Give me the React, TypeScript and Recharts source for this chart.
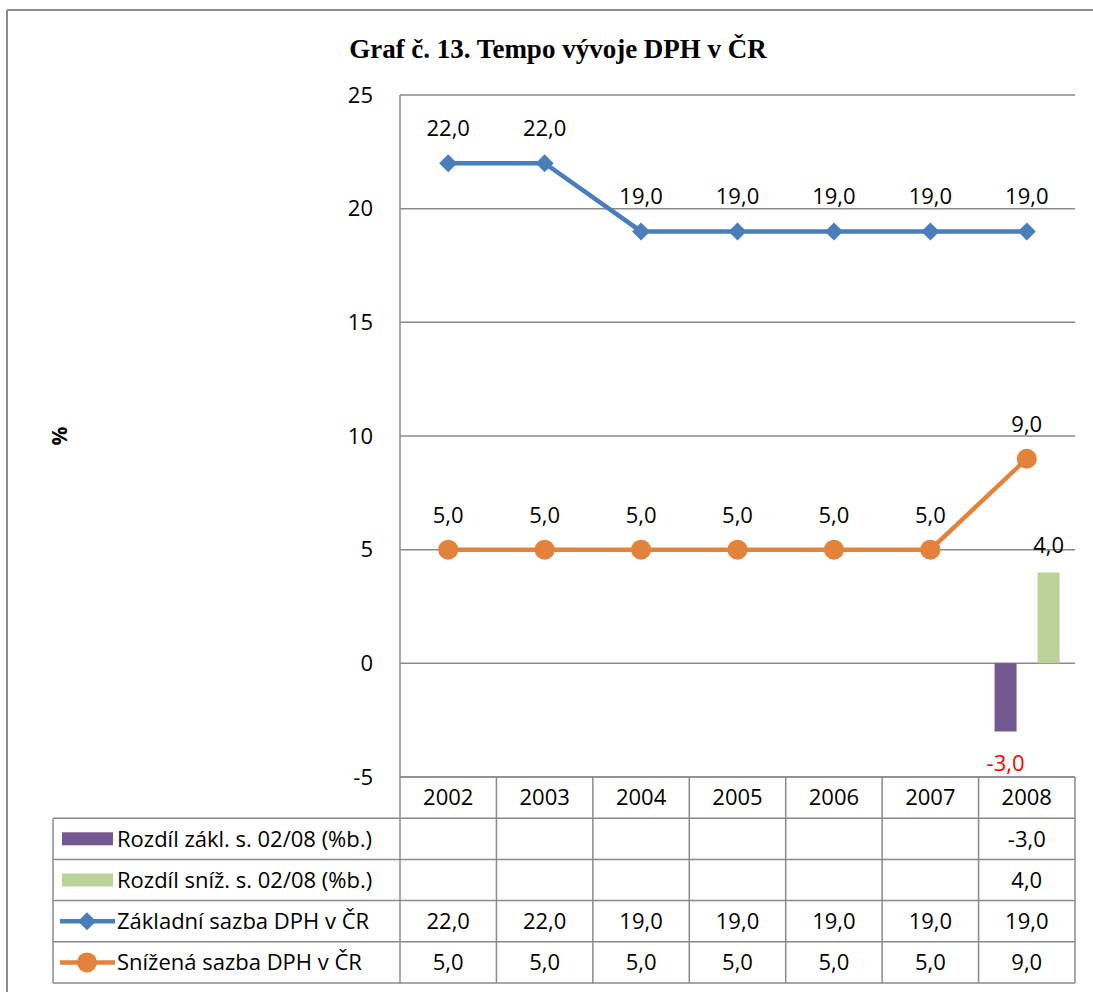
import {
  ComposedChart,
  Bar,
  Line,
  XAxis,
  YAxis,
  CartesianGrid,
  LabelList,
} from 'recharts';

const years = ['2002', '2003', '2004', '2005', '2006', '2007', '2008'];
const zakladniSazba = [22, 22, 19, 19, 19, 19, 19];
const snizenaSazba = [5, 5, 5, 5, 5, 5, 9];
const rozdilZakl = [null, null, null, null, null, null, -3];
const rozdilSniz = [null, null, null, null, null, null, 4];
const yTicks = [-5, 0, 5, 10, 15, 20, 25];

const W = 1093;
const H = 992;
const PLOT_LEFT = 400;
const PLOT_RIGHT = 1075;
const PLOT_TOP = 95;
const PLOT_BOTTOM = 777;
const ROW_H = 41.2;
const TABLE_LEFT = 53;

const BLUE = '#4a7ebb';
const ORANGE = '#e3823a';
const PURPLE = '#725a90';
const GREEN = '#bbd39a';
const GRID = '#8a8a8a';
const FONT = '"Open Sans", sans-serif';
const FS = 22;
const HALF_CAP = 7.8;

const data = years.map((year, i) => ({
  year,
  zakladni: zakladniSazba[i],
  snizena: snizenaSazba[i],
  rozdilZakl: rozdilZakl[i],
  rozdilSniz: rozdilSniz[i],
}));

const fmt = (v: number | null) => (v == null ? '' : v.toFixed(1).replace('.', ','));

function box(props: any) {
  const vb = props.viewBox || props;
  return {
    x: Number(vb.x ?? props.x),
    y: Number(vb.y ?? props.y),
    width: Number(vb.width ?? props.width ?? 0),
    height: Number(vb.height ?? props.height ?? 0),
  };
}

const pointLabel = (props: any) => {
  if (props.value == null) return null;
  const { x, y } = box(props);
  return (
    <text x={x} y={y - 27} textAnchor="middle" fontFamily={FONT} fontSize={FS} fill="#000">
      {fmt(Number(props.value))}
    </text>
  );
};

const barLabel = (color: string) => (props: any) => {
  if (props.value == null) return null;
  const { x, y, width, height } = box(props);
  const top = Math.min(y, y + height);
  const bottom = Math.max(y, y + height);
  const v = Number(props.value);
  return (
    <text
      x={x + width / 2}
      y={v < 0 ? bottom + 39 : top - 19}
      textAnchor="middle"
      fontFamily={FONT}
      fontSize={FS}
      fill={color}
    >
      {fmt(v)}
    </text>
  );
};

const Diamond = (props: any) => {
  const { cx, cy } = props;
  if (cx == null || cy == null) return null;
  return <path d={`M${cx} ${cy - 9}L${cx + 9} ${cy}L${cx} ${cy + 9}L${cx - 9} ${cy}Z`} fill={BLUE} />;
};

const Dot = (props: any) => {
  const { cx, cy } = props;
  if (cx == null || cy == null) return null;
  return <circle cx={cx} cy={cy} r={10} fill={ORANGE} />;
};

// data table under the plot: legend keys on the left, values per year
function DataTable() {
  const bandW = (PLOT_RIGHT - PLOT_LEFT) / years.length;
  const top = PLOT_BOTTOM + ROW_H;
  const bottom = PLOT_BOTTOM + ROW_H * 5;
  const rows = [
    { name: 'Rozdíl zákl. s. 02/08 (%b.)', values: rozdilZakl, key: 'bar', color: PURPLE },
    { name: 'Rozdíl sníž. s. 02/08 (%b.)', values: rozdilSniz, key: 'bar', color: GREEN },
    { name: 'Základní sazba DPH v ČR', values: zakladniSazba, key: 'diamond', color: BLUE },
    { name: 'Snížená sazba DPH v ČR', values: snizenaSazba, key: 'circle', color: ORANGE },
  ];
  return (
    <svg
      width={W}
      height={H}
      style={{ position: 'absolute', left: 0, top: 0, pointerEvents: 'none' }}
    >
      {/* chart area frame */}
      <line x1={7} y1={10} x2={W} y2={10} stroke="#8c8c8c" strokeWidth={2} />
      <line x1={7} y1={10} x2={7} y2={H} stroke="#8c8c8c" strokeWidth={2} />

      <text
        x={558}
        y={58}
        textAnchor="middle"
        fontFamily='"Liberation Serif", serif'
        fontWeight="bold"
        fontSize={27}
        fill="#000"
      >
        Graf č. 13. Tempo vývoje DPH v ČR
      </text>
      <text
        x={67}
        y={436}
        textAnchor="middle"
        transform="rotate(-90 67 436)"
        fontFamily={FONT}
        fontWeight="bold"
        fontSize={21}
        fill="#000"
      >
        %
      </text>

      {/* grid of the table */}
      <line x1={PLOT_LEFT} y1={PLOT_BOTTOM} x2={PLOT_LEFT} y2={top} stroke={GRID} strokeWidth={1.5} />
      {[1, 2, 3, 4, 5].map((r) => (
        <line
          key={r}
          x1={TABLE_LEFT}
          y1={PLOT_BOTTOM + ROW_H * r}
          x2={PLOT_RIGHT}
          y2={PLOT_BOTTOM + ROW_H * r}
          stroke={GRID}
          strokeWidth={1.5}
        />
      ))}
      <line x1={TABLE_LEFT} y1={top} x2={TABLE_LEFT} y2={bottom} stroke={GRID} strokeWidth={1.5} />
      {years.map((_, i) => (
        <line
          key={i}
          x1={PLOT_LEFT + bandW * (i + 1)}
          y1={PLOT_BOTTOM}
          x2={PLOT_LEFT + bandW * (i + 1)}
          y2={bottom}
          stroke={GRID}
          strokeWidth={1.5}
        />
      ))}
      <line x1={PLOT_LEFT} y1={top} x2={PLOT_LEFT} y2={bottom} stroke={GRID} strokeWidth={1.5} />

      {rows.map((row, r) => {
        const cy = top + ROW_H * r + ROW_H / 2;
        return (
          <g key={row.name}>
            {row.key === 'bar' && <rect x={62} y={cy - 6.5} width={51} height={13} fill={row.color} />}
            {row.key !== 'bar' && (
              <line x1={60} y1={cy} x2={115} y2={cy} stroke={row.color} strokeWidth={4.5} />
            )}
            {row.key === 'diamond' && (
              <path d={`M87 ${cy - 9}L96 ${cy}L87 ${cy + 9}L78 ${cy}Z`} fill={row.color} />
            )}
            {row.key === 'circle' && <circle cx={87} cy={cy} r={10} fill={row.color} />}
            <text x={117} y={cy + HALF_CAP} fontFamily={FONT} fontSize={FS} fill="#000">
              {row.name}
            </text>
            {row.values.map((v, i) => (
              <text
                key={i}
                x={PLOT_LEFT + bandW * i + bandW / 2}
                y={cy + HALF_CAP}
                textAnchor="middle"
                fontFamily={FONT}
                fontSize={FS}
                fill="#000"
              >
                {fmt(v)}
              </text>
            ))}
          </g>
        );
      })}
    </svg>
  );
}

export default function App() {
  return (
    <div style={{ position: 'absolute', left: 0, top: 0, width: W, height: H, background: '#fff' }}>
      <ComposedChart
        width={W}
        height={H}
        data={data}
        margin={{ top: PLOT_TOP, right: W - PLOT_RIGHT, left: PLOT_LEFT - 60, bottom: H - PLOT_BOTTOM - 30 }}
        barGap={21}
      >
        <CartesianGrid vertical={false} stroke={GRID} strokeWidth={1.5} />
        <XAxis
          dataKey="year"
          height={30}
          tickSize={0}
          tickMargin={12}
          axisLine={{ stroke: GRID, strokeWidth: 1.5 }}
          tick={{ fontFamily: FONT, fontSize: FS, fill: '#000' }}
        />
        <YAxis
          type="number"
          width={60}
          domain={[-5, 25]}
          ticks={yTicks}
          interval={0}
          tickSize={0}
          tickMargin={27}
          axisLine={{ stroke: GRID, strokeWidth: 1.5 }}
          tick={{ fontFamily: FONT, fontSize: FS, fill: '#000' }}
        />
        <Bar dataKey="rozdilZakl" fill={PURPLE} barSize={22} isAnimationActive={false}>
          <LabelList dataKey="rozdilZakl" content={barLabel('#ff0000')} />
        </Bar>
        <Bar dataKey="rozdilSniz" fill={GREEN} barSize={22} isAnimationActive={false}>
          <LabelList dataKey="rozdilSniz" content={barLabel('#000')} />
        </Bar>
        <Line
          dataKey="zakladni"
          stroke={BLUE}
          strokeWidth={4.5}
          dot={<Diamond />}
          activeDot={false}
          isAnimationActive={false}
        >
          <LabelList dataKey="zakladni" content={pointLabel} />
        </Line>
        <Line
          dataKey="snizena"
          stroke={ORANGE}
          strokeWidth={4.5}
          dot={<Dot />}
          activeDot={false}
          isAnimationActive={false}
        >
          <LabelList dataKey="snizena" content={pointLabel} />
        </Line>
      </ComposedChart>
      <DataTable />
    </div>
  );
}
